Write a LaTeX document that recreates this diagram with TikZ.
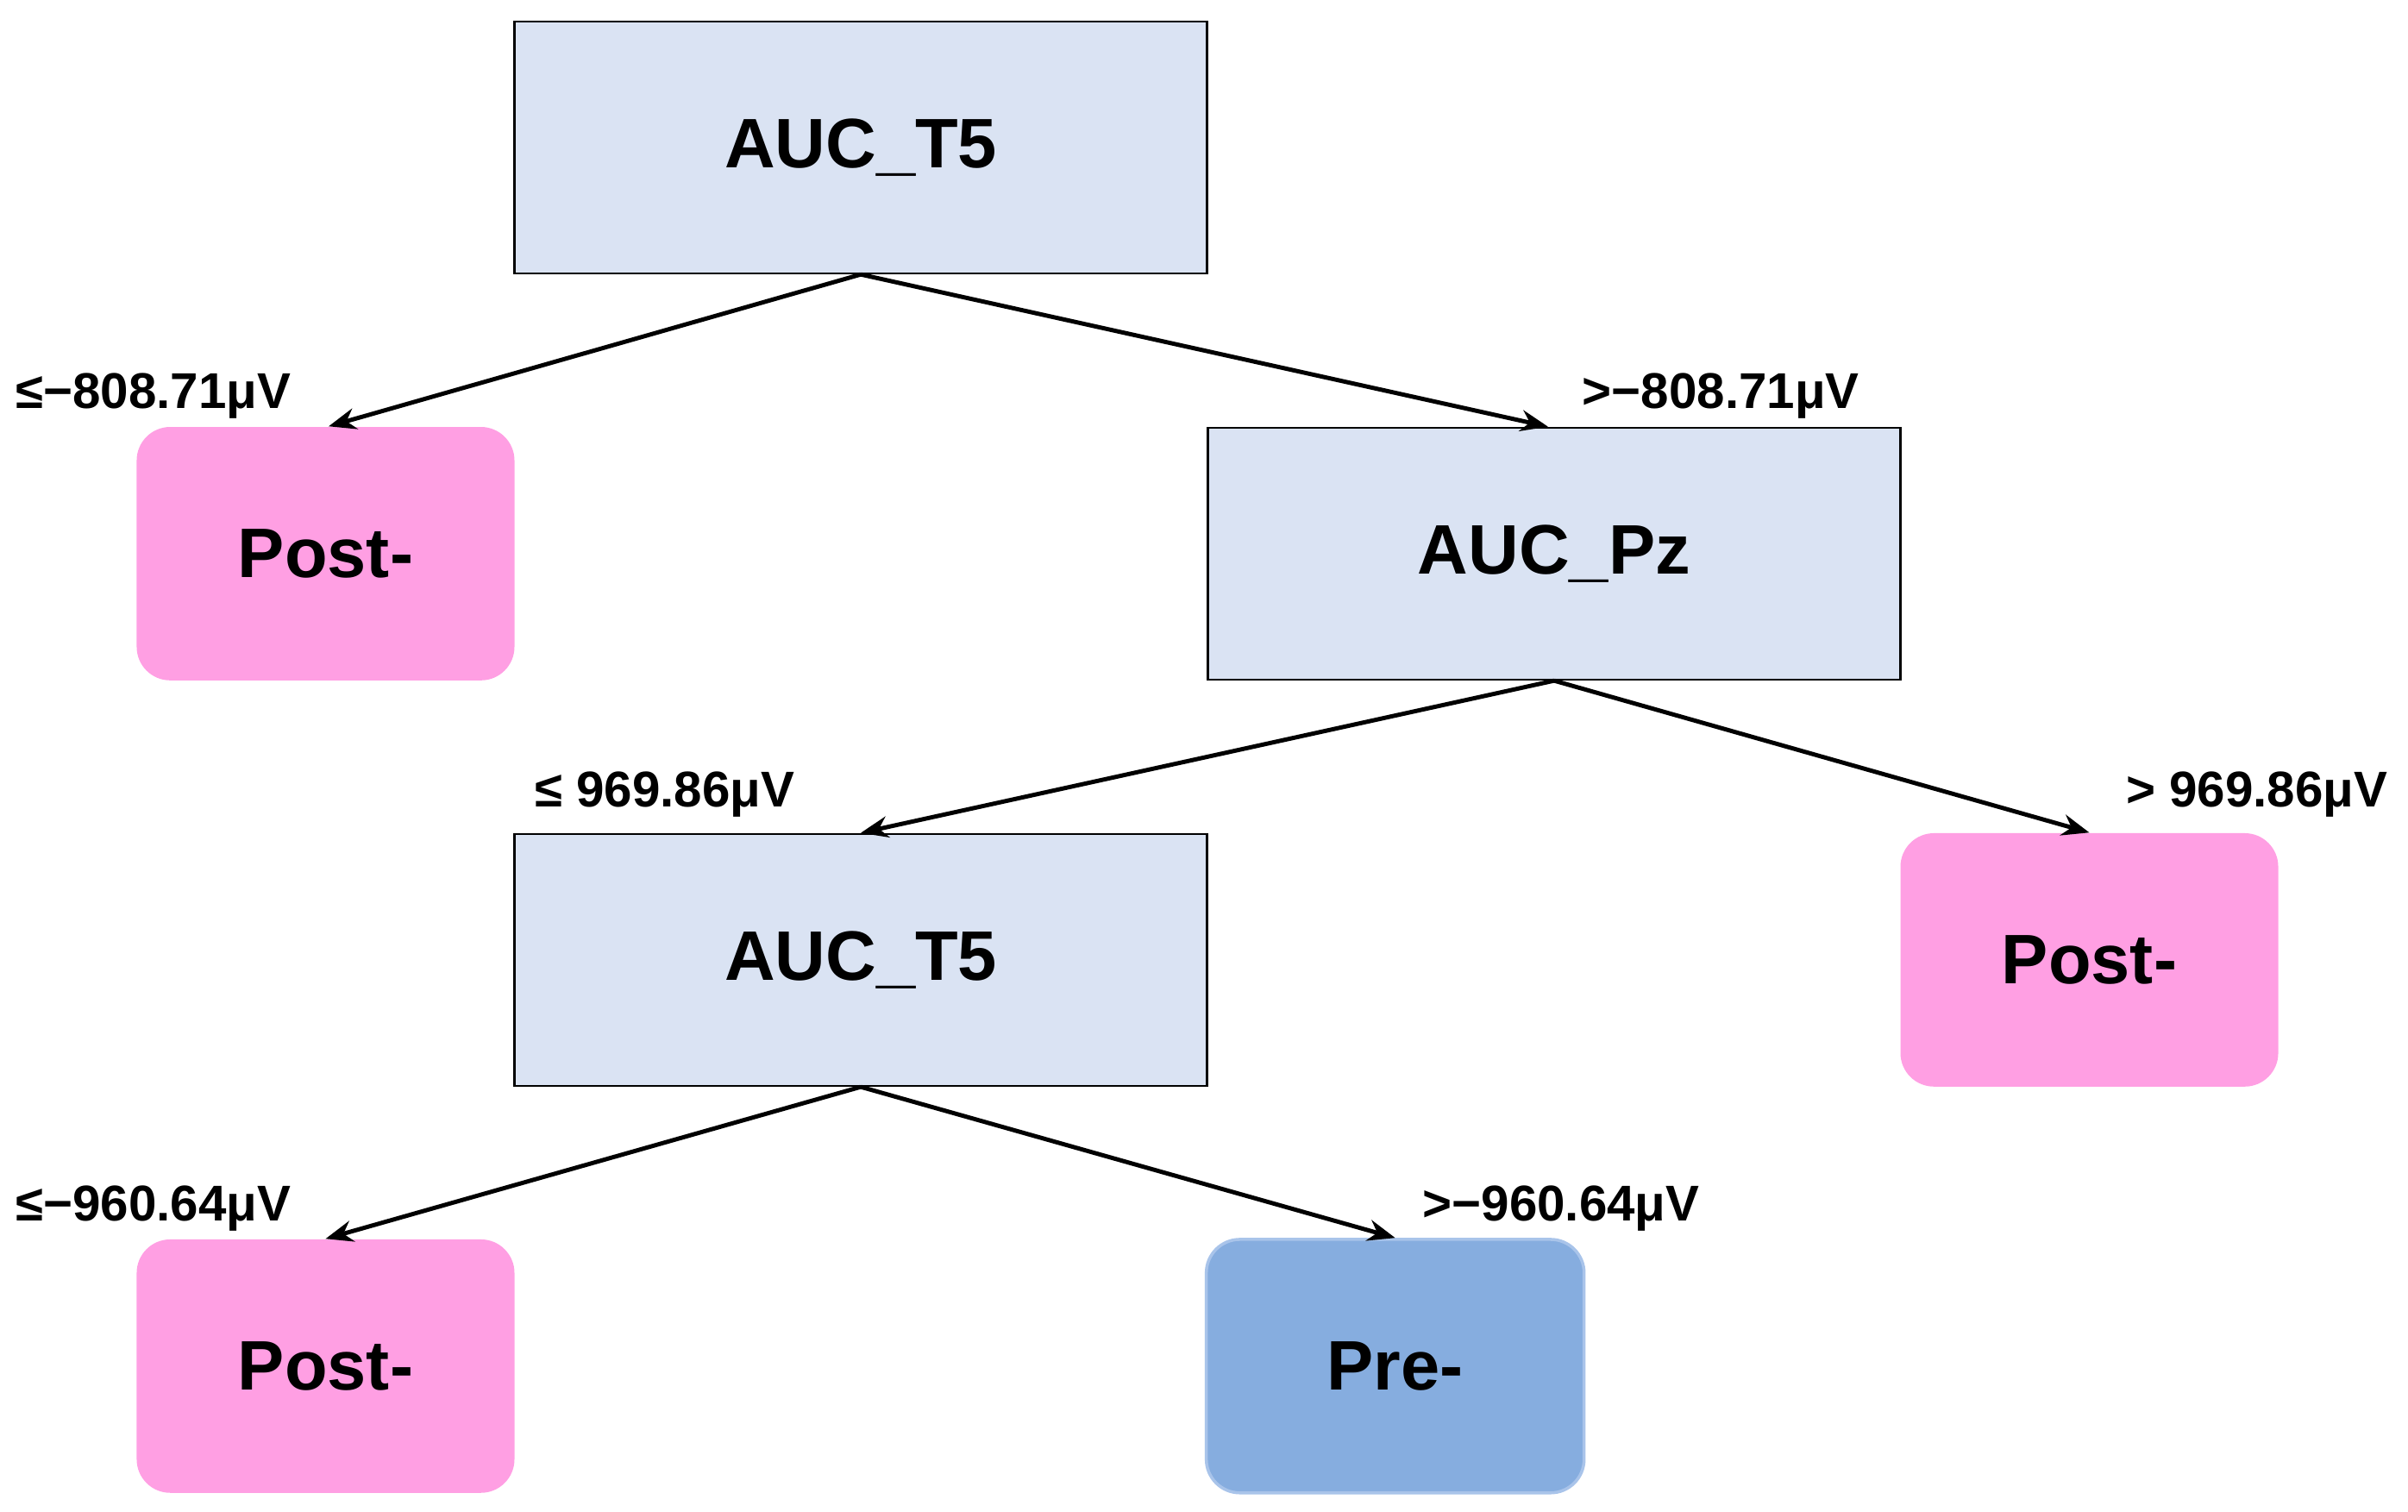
\documentclass[tikz,border=0pt]{standalone}
\usepackage{fontspec}
\setmainfont{Liberation Sans}
\usetikzlibrary{arrows.meta}
\definecolor{split}{HTML}{DAE3F3}
\definecolor{post}{HTML}{FF9FE3}
\definecolor{pre}{HTML}{86ADDF}
\definecolor{preb}{HTML}{A9C4EA}
\begin{document}
\begin{tikzpicture}[x=0.504pt,y=-0.504pt,
 split/.style={draw=black,line width=0.7pt,fill=split,minimum width=451*0.504pt,minimum height=164*0.504pt,inner sep=0pt,font=\bfseries\fontsize{23}{26}\selectfont},
 leaf/.style={fill=post,rounded corners=11pt,minimum width=246*0.504pt,minimum height=165*0.504pt,inner sep=0pt,font=\bfseries\fontsize{23}{26}\selectfont},
 lab/.style={font=\bfseries\fontsize{16.5}{19}\selectfont,inner sep=0pt},
 arr/.style={line width=1.4pt,-{Stealth[length=9pt,width=7pt]}}]
\useasboundingbox (0,0) rectangle (1568,984);
\node[split] (r) at (560.5,96) {AUC\_T5};
\node[leaf] (l1) at (212,360.5) {Post-};
\node[split] (pz) at (1012,360.5) {AUC\_Pz};
\node[split] (t5) at (560.5,625) {AUC\_T5};
\node[leaf] (l2) at (1360.5,625) {Post-};
\node[leaf] (l3) at (212,889.5) {Post-};
\node[leaf,fill=pre,draw=preb,line width=1pt] (p) at (908.5,889.5) {Pre-};
\draw[arr] (r.south) -- ([xshift=1]l1.north);
\draw[arr] (r.south) -- ([xshift=-4*0.504pt]pz.north);
\draw[arr] (pz.south) -- (t5.north);
\draw[arr] (pz.south) -- (l2.north);
\draw[arr] (t5.south) -- (l3.north);
\draw[arr] (t5.south) -- (p.north);
\node[lab,anchor=west] (a1) at (10,258) {≤−808.71μV};
\node[lab,anchor=west] (a2) at (1030,258) {>−808.71μV};
\node[lab,anchor=west] (a3) at (348,517) {≤ 969.86μV};
\node[lab,anchor=west] (a4) at (1384,517) {> 969.86μV};
\node[lab,anchor=west] (a5) at (10,787) {≤−960.64μV};
\node[lab,anchor=west] (a6) at (926,787) {>−960.64μV};
\end{tikzpicture}
\end{document}
